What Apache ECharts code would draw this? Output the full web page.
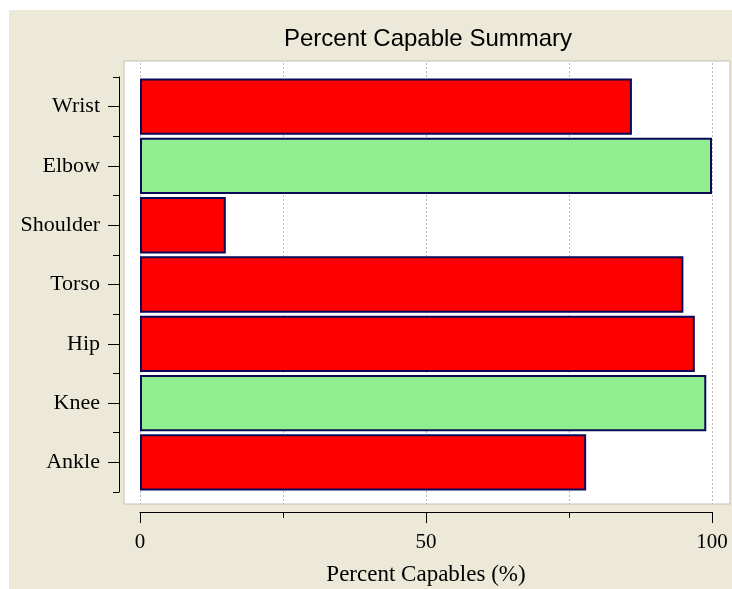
<!DOCTYPE html>
<html>
<head>
<meta charset="utf-8">
<script src="https://cdn.jsdelivr.net/npm/echarts@6/dist/echarts.min.js"></script>
<style>
  html, body { margin: 0; padding: 0; background: #ffffff; }
  #chart { position: absolute; left: 9px; top: 10px; width: 723px; height: 579px; }
</style>
</head>
<body>
<div id="chart"></div>
<script>
const titleText = 'Percent Capable Summary';
const xAxisTitle = 'Percent Capables (%)';
const categories = ['Wrist', 'Elbow', 'Shoulder', 'Torso', 'Hip', 'Knee', 'Ankle'];
const percentCapable = [86, 100, 15, 95, 97, 99, 78];
const isCapable = [false, true, false, false, false, true, false];
const xMin = 0;
const xMax = 100;

const RED = '#ff0000';
const GREEN = '#90ee90';
const BORDER = '#0a0a5a';
const SERIF = '"Liberation Serif", "Times New Roman", serif';

const chart = echarts.init(document.getElementById('chart'), null, { renderer: 'canvas' });

const option = {
  backgroundColor: '#ece9d8',
  animation: false,
  title: {
    text: titleText,
    left: 414,
    top: 12,
    textAlign: 'center',
    textStyle: { fontFamily: '"Liberation Sans", Arial, sans-serif', fontSize: 24, fontWeight: 'normal', color: '#000' }
  },
  grid: [
    { left: 115, top: 51, right: 2, bottom: 85, outerBoundsMode: 'none', containLabel: false, show: true, backgroundColor: '#ffffff', borderColor: '#c4c1b4', borderWidth: 1 },
    { left: 131, width: 572, top: 53, bottom: 85, outerBoundsMode: 'none', containLabel: false },
    { left: 131, width: 572, top: 67, height: 415, outerBoundsMode: 'none', containLabel: false }
  ],
  xAxis: [
    { gridIndex: 0, type: 'value', show: false },
    {
      gridIndex: 1, type: 'value', min: xMin, max: xMax, interval: 25,
      axisLine: { show: false }, axisTick: { show: false }, axisLabel: { show: false },
      splitLine: { show: true, lineStyle: { color: '#b8b8b8', width: 1, type: [2, 2] } }
    },
    {
      gridIndex: 2, type: 'value', min: xMin, max: xMax, interval: 50, offset: 20,
      axisLine: { show: true, onZero: false, lineStyle: { color: '#000', width: 1 } },
      axisTick: { show: true, length: 11, lineStyle: { color: '#000', width: 1 } },
      minorTick: { show: true, splitNumber: 2, length: 6, lineStyle: { color: '#000', width: 1 } },
      axisLabel: { fontFamily: SERIF, fontSize: 21, color: '#000', margin: 20 },
      splitLine: { show: false },
      name: xAxisTitle,
      nameLocation: 'middle',
      nameGap: 51,
      nameTextStyle: { fontFamily: SERIF, fontSize: 23, color: '#000' }
    }
  ],
  yAxis: [
    { gridIndex: 0, type: 'value', show: false },
    { gridIndex: 1, type: 'value', show: false },
    {
      gridIndex: 2, type: 'category', data: categories, inverse: true, position: 'left', offset: 21,
      axisLine: { show: true, onZero: false, lineStyle: { color: '#000', width: 1 } },
      axisTick: { show: true, length: 6, lineStyle: { color: '#000', width: 1 } },
      axisLabel: { fontFamily: SERIF, fontSize: 22, color: '#000', margin: 19 },
      splitLine: { show: false }
    },
    {
      gridIndex: 2, type: 'category', data: categories, inverse: true, position: 'left', offset: 21,
      axisLine: { show: false, onZero: false },
      axisTick: { show: true, alignWithLabel: true, length: 11, lineStyle: { color: '#000', width: 1 } },
      axisLabel: { show: false },
      splitLine: { show: false }
    }
  ],
  series: [
    {
      type: 'bar',
      xAxisIndex: 2,
      yAxisIndex: 2,
      barCategoryGap: '5%',
      data: percentCapable.map((v, i) => ({
        value: v,
        itemStyle: { color: isCapable[i] ? GREEN : RED, borderColor: BORDER, borderWidth: 2 }
      }))
    }
  ]
};

chart.setOption(option);
</script>
</body>
</html>
